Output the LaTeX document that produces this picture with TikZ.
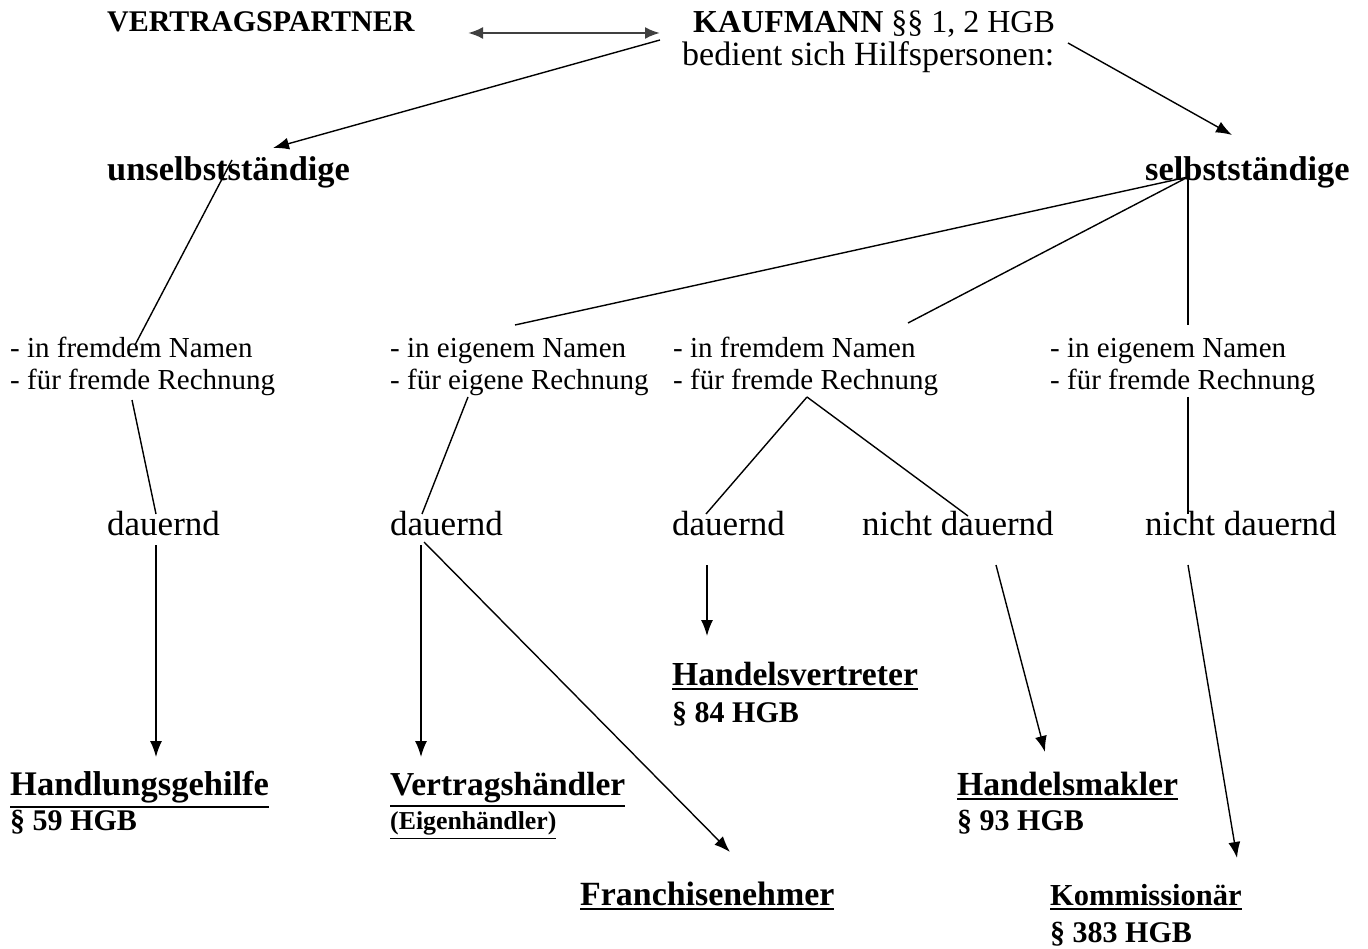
\documentclass[tikz,border=0pt]{standalone}
\usepackage{fontspec}
\setmainfont{Liberation Serif}
\usetikzlibrary{arrows.meta}
\newcommand\fsz[1]{\fontsize{#1}{#1}\selectfont}
\newcommand\myul[2][2pt]{\vtop{\hbox{#2}\kern3pt\hrule height #1}}
\tikzset{
  lbl/.style={anchor=base west, inner sep=0pt},
  sm/.style={lbl, font=\fsz{29}},
  ln/.style={line width=1.4pt, black},
  arr/.style={line width=1.4pt, black, -{Latex[length=16pt,width=12pt]}},
  darr/.style={line width=2.4pt, black!75, {Latex[length=15pt,width=12pt]}-{Latex[length=15pt,width=12pt]}},
}
\begin{document}
\begin{tikzpicture}[x=1pt,y=-1pt]
\useasboundingbox (0,0) rectangle (1368,949);
% texts
\node[lbl] (vp) at (107,32) {\fsz{30}\bfseries VERTRAGSPARTNER};
\node[lbl] (kf) at (693,33) {\fsz{32}\textbf{KAUFMANN} §§ 1, 2 HGB};
\node[lbl] (bd) at (682,66) {\fsz{34}bedient sich Hilfspersonen:};
\node[lbl] (us) at (107,181) {\fsz{34.4}\bfseries unselbstständige};
\node[lbl] (ss) at (1145,181) {\fsz{34.4}\bfseries selbstständige};
\node[sm] (g1a) at (10,358) {- in fremdem Namen};
\node[sm] (g1b) at (10,389) {- für fremde Rechnung};
\node[sm] (g2a) at (390,358) {- in eigenem Namen};
\node[sm] (g2b) at (390,389) {- für eigene Rechnung};
\node[sm] (g3a) at (673,358) {- in fremdem Namen};
\node[sm] (g3b) at (673,389) {- für fremde Rechnung};
\node[sm] (g4a) at (1050,358) {- in eigenem Namen};
\node[sm] (g4b) at (1050,389) {- für fremde Rechnung};
\node[lbl] (d1) at (107,535) {\fsz{35}dauernd};
\node[lbl] (d2) at (390,535) {\fsz{35}dauernd};
\node[lbl] (d3) at (672,535) {\fsz{35}dauernd};
\node[lbl] (d4) at (862,535) {\fsz{35}nicht dauernd};
\node[lbl] (d5) at (1145,535) {\fsz{35}nicht dauernd};
\node[lbl] (hv) at (672,685) {\fsz{33.6}\bfseries\myul{Handelsvertreter}};
\node[lbl] (hvp) at (672,722) {\fsz{30}\bfseries § 84 HGB};
\node[lbl] (hg) at (10,795) {\fsz{34.5}\bfseries\myul{Handlungsgehilfe}};
\node[lbl] (hgp) at (10,830) {\fsz{30}\bfseries § 59 HGB};
\node[lbl] (vh) at (390,795) {\fsz{33.5}\bfseries\myul{Vertragshändler}};
\node[lbl] (vhp) at (390,829) {\fsz{25.8}\bfseries\myul[1.5pt]{(Eigenhändler)}};
\node[lbl] (hm) at (957,795) {\fsz{33.7}\bfseries\myul{Handelsmakler}};
\node[lbl] (hmp) at (957,830) {\fsz{30}\bfseries § 93 HGB};
\node[lbl] (fr) at (580,905) {\fsz{33.9}\bfseries\myul{Franchisenehmer}};
\node[lbl] (km) at (1050,905) {\fsz{30.5}\bfseries\myul{Kommissionär}};
\node[lbl] (kmp) at (1050,942) {\fsz{30}\bfseries § 383 HGB};
% coordinates
\coordinate (va) at (468,33);
\coordinate (vb) at (660,33);
\coordinate (k1) at (660,40);
\coordinate (k2) at (1068,43);
\coordinate (ut) at (273,148);
\coordinate (st) at (1232,135);
\coordinate (u0) at (232,160);
\coordinate (g1t) at (135,345);
\coordinate (s0) at (1188,177);
\coordinate (g2t) at (515,325);
\coordinate (g3t) at (908,323);
\coordinate (g4t) at (1188,325);
\coordinate (g1e) at (132,400);
\coordinate (d1t) at (156,514);
\coordinate (g2e) at (468,397);
\coordinate (d2t) at (422,514);
\coordinate (g3e) at (807,397);
\coordinate (d3t) at (706,514);
\coordinate (d4t) at (968,516);
\coordinate (g4e) at (1188,397);
\coordinate (d5t) at (1188,514);
\coordinate (d1b) at (156,545);
\coordinate (hgt) at (156,757);
\coordinate (d2b) at (421,545);
\coordinate (vht) at (421,757);
\coordinate (d2c) at (424,542);
\coordinate (frt) at (730,852);
\coordinate (d3b) at (707,565);
\coordinate (hvt) at (707,636);
\coordinate (d4b) at (996,565);
\coordinate (hmt) at (1045,752);
\coordinate (d5b) at (1188,565);
\coordinate (kmt) at (1237,858);
% connectors
\draw[darr] (va) -- (vb);
\draw[arr] (k1) -- (ut);
\draw[arr] (k2) -- (st);
\draw[ln] (u0) -- (g1t);
\draw[ln] (s0) -- (g2t);
\draw[ln] (s0) -- (g3t);
\draw[ln] (s0) -- (g4t);
\draw[ln] (g1e) -- (d1t);
\draw[ln] (g2e) -- (d2t);
\draw[ln] (g3e) -- (d3t);
\draw[ln] (g3e) -- (d4t);
\draw[ln] (g4e) -- (d5t);
\draw[arr] (d1b) -- (hgt);
\draw[arr] (d2b) -- (vht);
\draw[arr] (d2c) -- (frt);
\draw[arr] (d3b) -- (hvt);
\draw[arr] (d4b) -- (hmt);
\draw[arr] (d5b) -- (kmt);
\end{tikzpicture}
\end{document}
